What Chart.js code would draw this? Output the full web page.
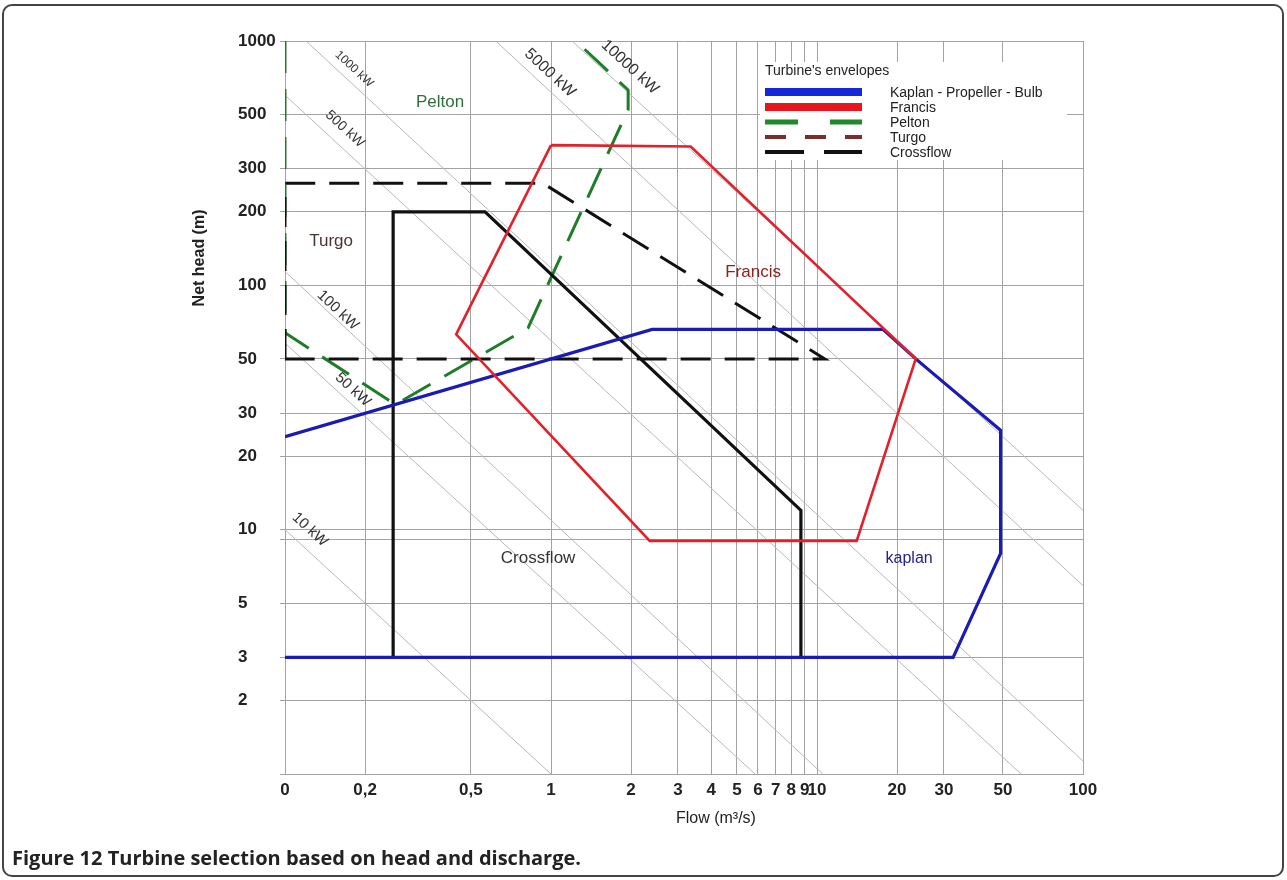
<!DOCTYPE html>
<html>
<head>
<meta charset="utf-8">
<title>Turbine selection based on head and discharge</title>
<script src="https://cdn.jsdelivr.net/npm/chart.js@4.4.1/dist/chart.umd.min.js"></script>
<style>
  html, body { margin: 0; padding: 0; background: #fff; }
  #wrap { position: absolute; left: 0; top: 0; width: 1287px; height: 880px; overflow: hidden; }
  #frame { position: absolute; left: 2px; top: 4px; width: 1282px; height: 873px; box-sizing: border-box;
           border: 2px solid #444; border-radius: 10px; }
  #chart { position: absolute; left: 0; top: 0; }
  #caption { position: absolute; left: 12px; top: 846px; font-family: "Open Sans", "Noto Sans", sans-serif;
             font-weight: 700; font-size: 20px; line-height: 24px; color: #222; white-space: nowrap; }
</style>
</head>
<body>
<div id="wrap">
  <div id="frame"></div>
  <canvas id="chart" width="1287" height="880"></canvas>
  <div id="caption">Figure 12 Turbine selection based on head and discharge.</div>
</div>
<script>
// Axis ticks: flow (m³/s) and net head (m), both logarithmic
const flowTicks = [0.1, 0.2, 0.5, 1, 2, 3, 4, 5, 6, 7, 8, 9, 10, 20, 30, 50, 100];
const flowTickLabels = ['0', '0,2', '0,5', '1', '2', '3', '4', '5', '6', '7', '8', '9', '10', '20', '30', '50', '100'];
const headTicks = [1, 2, 3, 5, 9.1, 10, 20, 30, 50, 100, 200, 300, 500, 1000];
const headTickLabels = ['', '2', '3', '5', '', '10', '20', '30', '50', '100', '200', '300', '500', '1000'];

// Turbine envelopes (flow, head) vertices
const kaplanFlow = [0.1, 2.4, 17.7, 23.5, 49, 49, 32.5, 0.1];
const kaplanHead = [24, 66, 66, 50, 25.5, 8, 3, 3];
const francisFlow = [1.0, 3.35, 23.5, 14.1, 2.35, 0.44, 1.0];
const francisHead = [375, 370, 50, 9, 9, 63, 375];
const peltonFlow = [0.1, 0.1, 0.26, 0.82, 1.95, 1.95, 1.24];
const peltonHead = [1000, 64, 32.5, 67, 525, 630, 1000];
const turgoFlow = [0.1, 0.1, 0.93, 10.7, 0.1];
const turgoHead = [50, 262, 262, 50, 50];
const crossflowFlow = [0.255, 0.255, 0.565, 8.7, 8.7];
const crossflowHead = [3, 200, 200, 12, 3];

// Iso-power lines (start and end points)
const powerLabels = ['10 kW', '50 kW', '100 kW', '500 kW', '1000 kW', '5000 kW', '10000 kW'];
const powerStartFlow = [0.1, 0.1, 0.1, 0.1, 0.12, 0.62, 1.2];
const powerStartHead = [10, 58, 114, 600, 1000, 1000, 1000];
const powerEndFlow = [1, 5.85, 10.5, 58.5, 100, 100, 100];
const powerEndHead = [1, 1, 1, 1, 1.13, 5.9, 12];

// Region and legend texts
const regionNames = ['Pelton', 'Turgo', 'Francis', 'Crossflow', 'kaplan'];
const legendTitle = "Turbine's envelopes";
const legendNames = ['Kaplan - Propeller - Bulb', 'Francis', 'Pelton', 'Turgo', 'Crossflow'];

// Placement and styling of the annotations
const powerLabelAt = [[0.124, 10.0], [0.18, 37.4], [0.158, 79], [0.168, 436], [0.182, 767], [0.99, 739], [1.98, 782]];
const powerLabelSize = [15, 15, 15, 14, 12, 16, 16];
const regionAt = [[0.383, 563], [0.149, 151], [5.75, 113], [0.894, 7.63], [22.2, 7.63]];
const regionColor = ['#2f6e3a', '#4a3434', '#8e2020', '#333333', '#23238a'];
const regionSize = [17, 17, 17, 17, 16];
const legendStyle = [
  { color: '#1428d8', width: 8, dash: [] },
  { color: '#e8141e', width: 8, dash: [] },
  { color: '#1f8a2a', width: 5, dash: [33, 32] },
  { color: '#7a2e2e', width: 4, dash: [21, 19] },
  { color: '#111111', width: 4, dash: [39, 20] }
];

const SANS = '"Liberation Sans", Arial, sans-serif';
const GRID = '#a3a3a3';

const toPoints = (xs, ys) => xs.map((x, i) => ({ x: x, y: ys[i] }));
function path(label, xs, ys, color, width, dash, order) {
  return {
    label: label, data: toPoints(xs, ys), showLine: true, fill: false, tension: 0,
    borderColor: color, backgroundColor: color, borderWidth: width, borderDash: dash,
    borderCapStyle: 'butt', borderJoinStyle: 'miter', pointRadius: 0, pointHoverRadius: 0, order: order
  };
}

const datasets = [
  path('Francis', francisFlow, francisHead, '#e3202a', 2.6, [], 1),
  path('Kaplan', kaplanFlow, kaplanHead, '#1a1ab4', 3.2, [], 2),
  path('Crossflow', crossflowFlow, crossflowHead, '#111111', 3.2, [], 3),
  path('Turgo', turgoFlow, turgoHead, '#111111', 3, [30, 14], 4),
  path('Pelton', peltonFlow, peltonHead, '#1e7d28', 3, [32, 16], 5)
];
powerLabels.forEach((name, i) => {
  datasets.push(path(name, [powerStartFlow[i], powerEndFlow[i]], [powerStartHead[i], powerEndHead[i]], '#b8b8b8', 1, [], 10));
});

const annotate = {
  id: 'annotate',
  beforeDatasetsDraw(chart) {
    // white panel that carries the legend
    const { ctx, chartArea: a } = chart;
    ctx.save();
    ctx.fillStyle = '#ffffff';
    ctx.fillRect(a.left + 475, a.top + 21, 307, 98);
    ctx.restore();
  },
  afterDatasetsDraw(chart) {
    const { ctx, chartArea: a } = chart;
    const xs = chart.scales.x, ys = chart.scales.y;
    ctx.save();
    ctx.textAlign = 'center';
    ctx.textBaseline = 'middle';

    // power labels, rotated along their lines
    powerLabels.forEach((name, i) => {
      const x1 = xs.getPixelForValue(powerStartFlow[i]), y1 = ys.getPixelForValue(powerStartHead[i]);
      const x2 = xs.getPixelForValue(powerEndFlow[i]), y2 = ys.getPixelForValue(powerEndHead[i]);
      const ang = Math.atan2(y2 - y1, x2 - x1);
      const px = xs.getPixelForValue(powerLabelAt[i][0]), py = ys.getPixelForValue(powerLabelAt[i][1]);
      ctx.save();
      ctx.translate(px, py);
      ctx.rotate(ang);
      ctx.fillStyle = '#333';
      ctx.font = powerLabelSize[i] + 'px ' + SANS;
      ctx.fillText(name, 0, 0);
      ctx.restore();
    });

    // region names
    regionNames.forEach((name, i) => {
      ctx.fillStyle = regionColor[i];
      ctx.font = regionSize[i] + 'px ' + SANS;
      ctx.fillText(name, xs.getPixelForValue(regionAt[i][0]), ys.getPixelForValue(regionAt[i][1]));
    });

    // axis titles
    ctx.fillStyle = '#222';
    ctx.font = '16px ' + SANS;
    ctx.fillText('Flow (m³/s)', a.left + a.width * 0.54, a.bottom + 45);
    ctx.save();
    ctx.translate(a.left - 85, a.top + a.height * 0.296);
    ctx.rotate(-Math.PI / 2);
    ctx.font = 'bold 16px ' + SANS;
    ctx.fillText('Net head (m)', 0, 0);
    ctx.restore();

    // legend
    const lx = a.left + 480, tx = a.left + 605;
    ctx.textAlign = 'left';
    ctx.fillStyle = '#222';
    ctx.font = '14px ' + SANS;
    ctx.fillText(legendTitle, lx, a.top + 30);
    legendNames.forEach((name, i) => {
      const y = a.top + 51 + 15 * i;
      const st = legendStyle[i];
      ctx.save();
      ctx.strokeStyle = st.color;
      ctx.lineWidth = st.width;
      ctx.setLineDash(st.dash);
      ctx.beginPath();
      ctx.moveTo(lx, y);
      ctx.lineTo(lx + 97, y);
      ctx.stroke();
      ctx.restore();
      ctx.fillStyle = '#222';
      ctx.fillText(name, tx, y + 1);
    });
    ctx.restore();
  }
};

new Chart(document.getElementById('chart'), {
  type: 'scatter',
  data: { datasets: datasets },
  options: {
    responsive: false,
    animation: false,
    devicePixelRatio: 1,
    layout: { padding: { left: 238, top: 41, right: 204, bottom: 76 } },
    plugins: { legend: { display: false }, tooltip: { enabled: false } },
    scales: {
      x: {
        type: 'logarithmic', min: 0.1, max: 100,
        afterBuildTicks: s => { s.ticks = flowTicks.map(v => ({ value: v })); },
        afterFit: s => { s.height = 30; },
        ticks: {
          autoSkip: false, maxRotation: 0, minRotation: 0, padding: 6, color: '#222',
          font: { family: SANS, size: 17, weight: 'bold' },
          callback: (v, i) => flowTickLabels[i]
        },
        grid: { color: GRID, lineWidth: 1, drawTicks: false },
        border: { color: GRID }
      },
      y: {
        type: 'logarithmic', min: 1, max: 1000,
        afterBuildTicks: s => { s.ticks = headTicks.map(v => ({ value: v })); },
        afterFit: s => { s.width = 47; },
        ticks: {
          autoSkip: false, crossAlign: 'far', padding: 6, color: '#222',
          font: { family: SANS, size: 17, weight: 'bold' },
          callback: (v, i) => headTickLabels[i]
        },
        grid: { color: GRID, lineWidth: 1, drawTicks: true, tickLength: 5 },
        border: { color: GRID }
      }
    }
  },
  plugins: [annotate]
});
</script>
</body>
</html>
